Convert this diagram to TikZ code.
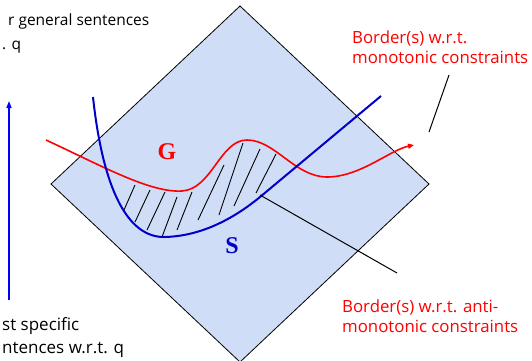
\documentclass[tikz,border=0pt]{standalone}
\usepackage{fontspec}
\setmainfont{Open Sans}
\newfontfamily\serifbold{Liberation Serif}
\usetikzlibrary{arrows.meta}
\definecolor{diamondfill}{RGB}{208,221,247}
\definecolor{borderred}{RGB}{255,0,0}
\definecolor{curveblue}{RGB}{0,0,200}
\definecolor{arrowblue}{RGB}{0,0,255}
\tikzset{
  redlabel/.style={text=borderred, font=\fontsize{16.8}{20}\selectfont, align=left, inner sep=0pt, anchor=base west},
  blacklabel/.style={text=black, font=\fontsize{17}{22.5}\selectfont, align=left, inner sep=0pt, anchor=base west},
  hatch/.style={black, line width=0.9pt},
  pointer/.style={black, line width=1pt},
  letter/.style={font=\serifbold\bfseries\fontsize{24}{24}\selectfont, inner sep=0pt}
}
\begin{document}
\begin{tikzpicture}[x=1pt,y=-1pt]
\useasboundingbox (0,0) rectangle (532,360);
\clip (0,0) rectangle (532,360);
% diamond
\draw[fill=diamondfill, line width=0.8pt] (240,6) -- (429,184) -- (240,362) -- (51,184) -- cycle;
% hatching
\draw[hatch] (124,210) -- (135,185);
\draw[hatch] (135,222) -- (150,190);
\draw[hatch] (147,230) -- (165,192);
\draw[hatch] (162,237) -- (177,197);
\draw[hatch] (177,230) -- (192,192);
\draw[hatch] (198,220) -- (224,165);
\draw[hatch] (219,215) -- (243,143);
\draw[hatch] (234,206) -- (260,149);
\draw[hatch] (256,193) -- (276,154);
% red curve (G border)
\draw[borderred, line width=1.6pt, -{Triangle[length=6pt,width=5pt]}]
  (46,140) .. controls (100,165) and (150,193) .. (182,191)
  .. controls (212,189) and (220,140) .. (247,140)
  .. controls (275,140) and (295,177) .. (327,177)
  .. controls (360,177) and (390,150) .. (414,145);
% blue curve (S border)
\draw[curveblue, line width=2pt]
  (93,97) .. controls (103,190) and (128,238) .. (165,237)
  .. controls (200,236) and (232,220) .. (260,197) -- (381,96);
% letters
\node[letter, text=borderred] (G) at (167,152) {G};
\node[letter, text=curveblue] (S) at (232,246) {S};
% pointer lines
\coordinate (antiTip) at (260,195);
\coordinate (antiEnd) at (397,273);
\draw[pointer] (antiTip) -- (antiEnd);
\coordinate (monoTop) at (449,75);
\coordinate (monoBot) at (429,132);
\draw[pointer] (monoTop) -- (monoBot);
% vertical arrow
\coordinate (vBot) at (9,300);
\coordinate (vTop) at (9,101);
\draw[arrowblue, line width=1.5pt, -{Triangle[length=7pt,width=5pt]}] (vBot) -- (vTop);
% labels (anchor = baseline of last line)
\node[redlabel] (mono) at (352,63) {Border(s) w.r.t.\\monotonic constraints};
\node[redlabel] (anti) at (342,332) {Border(s) w.r.t. anti-\\monotonic constraints};
\node[blacklabel, font=\fontsize{15.5}{24}\selectfont] (gen) at (8,49) {r general sentences\\\hspace*{-6pt}. q};
\node[blacklabel] (spec) at (2,353) {st specific\\ntences w.r.t. q};
\end{tikzpicture}
\end{document}
